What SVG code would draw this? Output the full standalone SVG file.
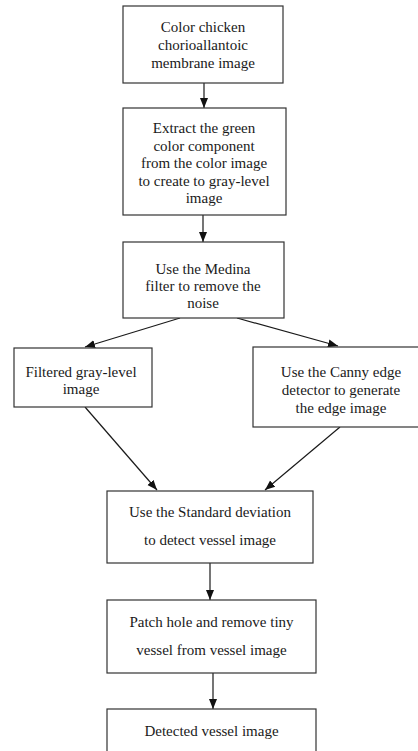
<svg xmlns="http://www.w3.org/2000/svg" width="418" height="751" viewBox="0 0 418 751">
  <style>
    .box { fill: #ffffff; stroke: #333333; stroke-width: 1.2; }
    .lbl { font-size: 15px; fill: #1a1a1a; text-anchor: middle; }
    .edge { fill: none; stroke: #1a1a1a; stroke-width: 1.2; marker-end: url(#arrow); }
  </style>
  <defs>
    <marker id="arrow" markerUnits="userSpaceOnUse" markerWidth="10" markerHeight="10" viewBox="0 0 10 10" refX="10" refY="5" orient="auto">
      <path d="M0,1 L10,5 L0,9 Z" fill="#111111"/>
    </marker>
  </defs>
  <rect width="418" height="751" fill="#ffffff"/>

  <g id="connectors">
    <line class="edge" x1="204" y1="83" x2="204" y2="108"/>
    <line class="edge" x1="203" y1="215" x2="203" y2="242"/>
    <line class="edge" x1="180" y1="318" x2="85" y2="347"/>
    <line class="edge" x1="237" y1="318" x2="338" y2="346"/>
    <line class="edge" x1="85" y1="407" x2="157" y2="490"/>
    <line class="edge" x1="340" y1="427" x2="265" y2="490"/>
    <line class="edge" x1="210" y1="563" x2="210" y2="600"/>
    <line class="edge" x1="213" y1="673" x2="213" y2="709"/>
  </g>

  <g id="nodes" font-family="Liberation Serif, Times New Roman, DejaVu Serif, serif">
  <g id="cam-image">
    <rect class="box" x="123" y="6" width="160" height="77"/>
    <text class="lbl" x="203" y="31.5">Color chicken</text>
    <text class="lbl" x="203" y="49.5">chorioallantoic</text>
    <text class="lbl" x="203" y="67.5">membrane image</text>
  </g>

  <g id="extract-green">
    <rect class="box" x="123" y="108" width="163" height="107"/>
    <text class="lbl" x="204" y="133">Extract the green</text>
    <text class="lbl" x="204" y="150.5">color component</text>
    <text class="lbl" x="204" y="168">from the color image</text>
    <text class="lbl" x="204" y="185.5">to create to gray-level</text>
    <text class="lbl" x="204" y="203">image</text>
  </g>

  <g id="median-filter">
    <rect class="box" x="123" y="242" width="161" height="76"/>
    <text class="lbl" x="203" y="273.5">Use the Medina</text>
    <text class="lbl" x="203" y="291">filter to remove the</text>
    <text class="lbl" x="203" y="308">noise</text>
  </g>

  <g id="filtered-gray">
    <rect class="box" x="14" y="348" width="138" height="59"/>
    <text class="lbl" x="81" y="376.5">Filtered gray-level</text>
    <text class="lbl" x="81" y="394">image</text>
  </g>

  <g id="canny-edge">
    <rect class="box" x="253" y="347" width="170" height="80"/>
    <text class="lbl" x="341" y="376.5">Use the Canny edge</text>
    <text class="lbl" x="341" y="394.5">detector to generate</text>
    <text class="lbl" x="341" y="412.5">the edge image</text>
  </g>

  <g id="std-deviation">
    <rect class="box" x="107" y="491" width="206" height="72"/>
    <text class="lbl" x="210" y="517">Use the Standard deviation</text>
    <text class="lbl" x="210" y="545">to detect vessel image</text>
  </g>

  <g id="patch-hole">
    <rect class="box" x="107" y="600" width="209" height="73"/>
    <text class="lbl" x="211.5" y="627">Patch hole and remove tiny</text>
    <text class="lbl" x="211.5" y="654.5">vessel from vessel image</text>
  </g>

  <g id="detected-vessel">
    <rect class="box" x="107" y="709" width="209" height="60"/>
    <text class="lbl" x="211.5" y="735.5">Detected vessel image</text>
  </g>
  </g>
</svg>
